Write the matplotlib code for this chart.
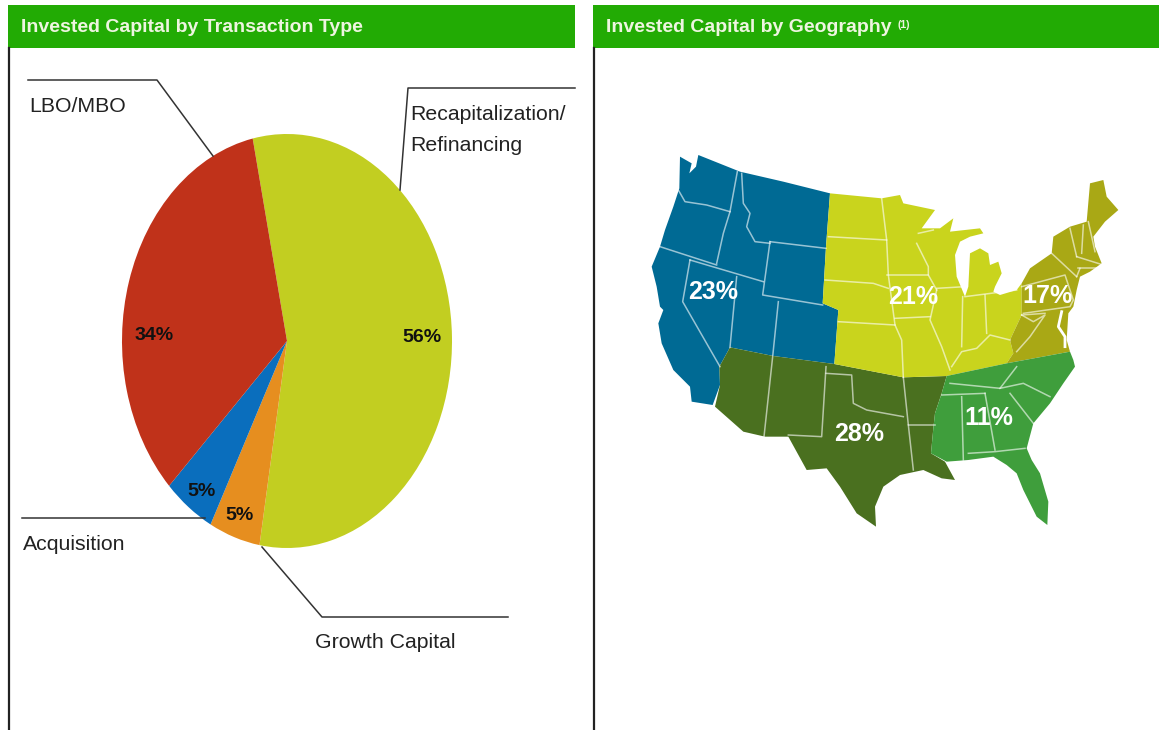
from matplotlib import pyplot as plt
from matplotlib.patches import Polygon, Rectangle

plt.rcParams['font.family'] = ['Liberation Sans']

# pie data
pie_values = [56, 5, 5, 34]
pie_colors = ["#c2ce21", "#e68e1f", "#0a6ebd", "#c0321a"]
pie_pct = ["56%", "5%", "5%", "34%"]
pie_pct_xy = [(422, 337), (240, 516), (201, 491), (154, 335)]

# map outlines
west = [(120,50),(155,70),(148,100),(168,80),(175,45),(300,95),(430,125),(570,160),(558,320),(548,490),
        (595,510),(583,672),(400,648),(270,622),(238,680),(240,735),(218,795),(155,785),(150,740),(100,690),
        (65,610),(55,550),(70,510),(60,500),(50,440),(35,380),(60,320),(75,270),(100,200),(118,145)]
southwest = [(270,622),(400,648),(583,672),(790,712),(920,708),(905,760),(885,820),(880,865),(873,940),
             (915,965),(945,1020),(905,1015),(850,990),(780,1005),(730,1040),(705,1100),(708,1160),(650,1120),
             (600,1040),(560,985),(500,990),(445,890),(375,890),(310,875),(225,800),(240,735),(238,680)]
midwest = [(570,160),(725,175),(780,165),(790,190),(885,210),(845,265),(900,265),(940,235),(930,275),
           (1020,265),(1030,280),(990,290),(960,305),(945,345),(950,410),(975,470),(985,440),(990,340),
           (1020,325),(1045,340),(1050,375),(1075,365),(1085,400),(1065,440),(1060,455),(1080,465),(1130,450),
           (1145,430),(1145,525),(1110,600),(1120,640),(1100,670),(920,708),(790,712),(583,672),(595,510),
           (548,490),(558,320)]
northeast = [(1145,525),(1145,430),(1170,385),(1235,340),(1240,290),(1290,260),(1340,245),(1350,130),
             (1390,120),(1400,170),(1435,210),(1395,245),(1360,290),(1365,320),(1385,370),(1350,395),(1320,410),
             (1310,450),(1300,500),(1285,520),(1280,600),(1290,635),(1100,670),(1120,640),(1110,600)]
southeast = [(920,708),(1100,670),(1290,635),(1300,660),(1305,680),(1270,730),(1230,790),(1180,850),(1160,925),
             (1175,960),(1200,1000),(1225,1085),(1222,1155),(1190,1130),(1150,1050),(1130,1000),(1100,975),
             (1060,950),(985,960),(920,965),(873,940),(880,865),(885,820),(905,760)]
regions = [west, southwest, midwest, northeast, southeast]
region_colors = ["#006a94", "#4a701f", "#c9d41d", "#a9a815", "#3f9e3c"]
region_pct = ["23%", "28%", "21%", "17%", "11%"]
region_pct_xy = [(713, 292), (859, 434), (913, 297), (1047, 296), (989, 418)]

state_lines = [
    [(115,150),(135,185),(200,195),(270,215)], [(292,95),(270,215),(250,280),(230,370)],
    [(60,320),(230,375)], [(150,360),(370,425)], [(150,360),(128,485),(240,680)], [(290,410),(270,622)],
    [(305,100),(310,190),(330,220),(320,260),(345,305),(390,310)],
    [(390,305),(558,325)], [(390,305),(368,465),(548,495)], [(415,485),(398,650),(372,890)],
    [(558,680),(545,890),(445,885)], [(558,700),(635,705),(640,790),(680,810),(790,830)],
    [(790,712),(805,855),(885,855)], [(805,855),(820,990)],
    [(725,175),(740,300),(745,405),(765,555),(785,600),(790,712)], [(565,290),(740,300)],
    [(555,420),(700,430),(745,445)], [(595,545),(765,555)], [(740,405),(865,405)], [(765,535),(870,530)],
    [(830,310),(865,380),(865,405),(890,450)], [(890,445),(975,440)],
    [(890,450),(870,540),(905,620),(930,690)], [(968,470),(965,620)], [(1035,465),(1040,580)],
    [(975,470),(1130,450)], [(935,680),(965,635),(1010,625),(1050,585),(1110,600)],
    [(835,280),(880,270)], [(1145,440),(1275,405),(1300,480),(1290,500),(1150,520)],
    [(1145,525),(1215,520)], [(1290,265),(1310,350)], [(1330,255),(1325,340)], [(1345,245),(1365,335)],
    [(1310,350),(1390,375)], [(1315,385),(1370,385)], [(1310,410),(1320,385)],
    [(1235,340),(1310,410)], [(1145,525),(1180,545),(1215,525),(1170,590),(1130,635)],
    [(930,730),(1080,745),(1130,680)], [(1080,745),(1150,730),(1230,770)], [(1110,760),(1180,850)],
    [(965,770),(970,960)], [(1035,760),(1065,930)], [(905,765),(1035,760)], [(985,940),(1065,935),(1155,925)],
]
chesapeake = [(1265,515),(1255,560),(1275,590),(1275,620)]

leader_lines = [
    [(28,80),(157,80),(213,156)], [(575,88),(408,88),(400,190)],
    [(22,518),(205,518)], [(262,547),(322,617),(508,617)],
]
slice_names = [("Recapitalization/\nRefinancing", 410, 130), ("LBO/MBO", 29, 106),
               ("Acquisition", 23, 544), ("Growth Capital", 315, 643)]


def zoom_xy(points):
    "map points traced on the 3x crop back to image pixels"
    return [(640 + x / 3, 140 + y / 3) for x, y in points]


fig = plt.figure(figsize=(11.59, 7.30), dpi=100)
ax = fig.add_axes([0, 0, 1, 1])
ax.set_xlim(0, 1159)
ax.set_ylim(730, 0)
ax.axis("off")

# panel headers and side rules
for x0, x1, title in [(8, 575, "Invested Capital by Transaction Type"),
                      (593, 1159, "Invested Capital by Geography")]:
    ax.add_patch(Rectangle((x0, 5), x1 - x0, 43, color="#22ab04", lw=0))
    ax.text(x0 + 13, 28, title, color="#eef5e0", fontsize=14, fontweight="bold", va="center")
    ax.plot([x0 + 1, x0 + 1], [48, 730], color="#222222", lw=1.6)
ax.text(898, 25, "(1)", color="#eef5e0", fontsize=7.5, fontweight="bold", va="center")

for line in leader_lines:
    ax.plot(*zip(*line), color="#333333", lw=1.1)
for name, x, y in slice_names:
    ax.text(x, y, name, fontsize=15.3, color="#222222", va="center", linespacing=1.8)

# map
for points, color in zip(regions, region_colors):
    ax.add_patch(Polygon(zoom_xy(points), closed=True, facecolor=color, edgecolor="none"))
for line in state_lines:
    ax.plot(*zip(*zoom_xy(line)), color="white", lw=1.1, alpha=0.6)
ax.plot(*zip(*zoom_xy(chesapeake)), color="white", lw=2)
for pct, (x, y) in zip(region_pct, region_pct_xy):
    ax.text(x, y, pct, color="white", fontsize=18, fontweight="bold", ha="center", va="center")

# pie is stretched in the picture, so it gets its own non-square axes
pie_ax = fig.add_axes([122 / 1159, 1 - 548 / 730, 330 / 1159, 414 / 730])
pie_ax.pie(pie_values, colors=pie_colors, startangle=102, counterclock=False, radius=1)
pie_ax.set_aspect("auto")
pie_ax.set_xlim(-1, 1)
pie_ax.set_ylim(-1, 1)

for pct, (x, y) in zip(pie_pct, pie_pct_xy):
    ax.text(x, y, pct, color="#111111", fontsize=14, fontweight="bold", ha="center", va="center", zorder=5)
ax.set_zorder(2)
ax.patch.set_visible(False)

fig.savefig("out.png", dpi=100)
